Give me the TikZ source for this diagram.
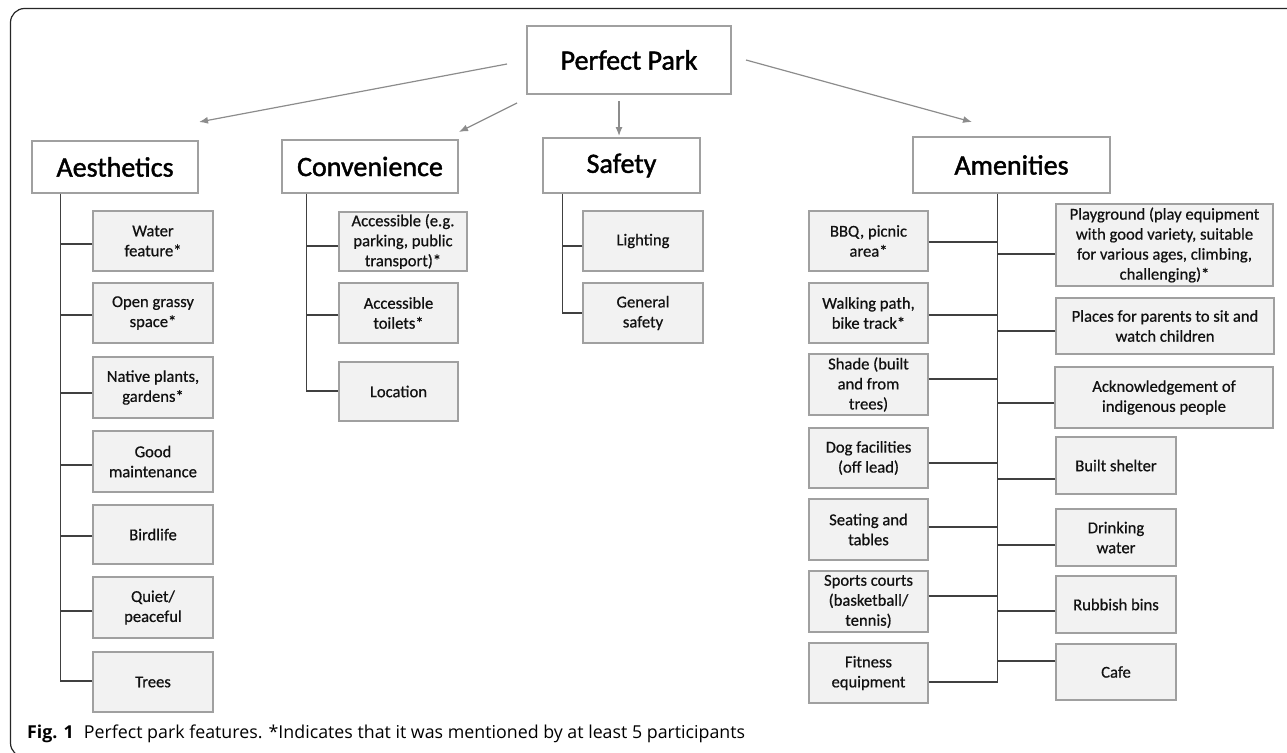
\documentclass[tikz,border=0pt]{standalone}
\usepackage{fontspec}
\setmainfont{Carlito}
\newfontfamily\hdrfont{Carlito}[FakeBold=1.5]
\newfontfamily\leaffont{Carlito}[FakeBold=0.6]
\newfontfamily\capfont{Open Sans}
\usetikzlibrary{arrows.meta,calc}
\definecolor{boxfill}{HTML}{F2F2F2}
\definecolor{boxline}{HTML}{A0A0A0}
\definecolor{connline}{HTML}{404040}
\definecolor{arrline}{HTML}{8C8C8C}
\definecolor{txt}{HTML}{111111}
\begin{document}
\begin{tikzpicture}[x=1pt,y=-1pt,
  hdr/.style={draw=boxline, line width=1.2pt, fill=white, inner sep=0pt, align=center, font=\hdrfont\fontsize{28}{32}\selectfont, text=black},
  leaf/.style={draw=boxline, line width=1.3pt, fill=boxfill, inner sep=0pt, align=center, font=\leaffont\fontsize{16.6}{20}\selectfont, text=txt},
  conn/.style={draw=connline, line width=1.3pt},
  arr/.style={draw=arrline, line width=1.2pt, -{Latex[length=9pt,width=7pt]}},
  frame/.style={draw=black!85, line width=1.2pt}]
\useasboundingbox (0,0) rectangle (1287,752);
\begin{scope}
\clip (0,0) rectangle (1287,752);
\draw[frame, rounded corners=14pt] (1300,8.5) -- (10.5,8.5) -- (10.5,757) -- (1300,757);
\end{scope}

% headers
\node[hdr, minimum width=204pt, minimum height=68pt] (pp) at (629,60) {Perfect Park};
\node[hdr, minimum width=166pt, minimum height=52pt] (aes) at (115,167) {Aesthetics};
\node[hdr, minimum width=176pt, minimum height=53pt] (con) at (370,166.5) {Convenience};
\node[hdr, minimum width=157pt, minimum height=55pt] (saf) at (621.5,165.5) {Safety};
\node[hdr, minimum width=197pt, minimum height=56pt] (ame) at (1011.5,165) {Amenities};

% arrows
\coordinate (a1s) at (507,64);  \coordinate (a1e) at (199,122);
\coordinate (a2s) at (517,103); \coordinate (a2e) at (459,132);
\coordinate (a3s) at (619,101); \coordinate (a3e) at (619,136);
\coordinate (a4s) at (746,60);  \coordinate (a4e) at (972,122);
\draw[arr] (a1s) -- (a1e);
\draw[arr] (a2s) -- (a2e);
\draw[arr] (a3s) -- (a3e);
\draw[arr] (a4s) -- (a4e);

% Aesthetics
\node[leaf, minimum width=120pt, minimum height=60pt] (w1) at (153,241) {Water\\feature*};
\node[leaf, minimum width=120pt, minimum height=60pt] (w2) at (153,313) {Open grassy\\space*};
\node[leaf, minimum width=120pt, minimum height=61pt] (w3) at (153,387.5) {Native plants,\\gardens*};
\node[leaf, minimum width=120pt, minimum height=61pt] (w4) at (153,461.5) {Good\\maintenance};
\node[leaf, minimum width=120pt, minimum height=59pt] (w5) at (153,534.5) {Birdlife};
\node[leaf, minimum width=120pt, minimum height=61pt] (w6) at (153,607.5) {Quiet/\\peaceful};
\node[leaf, minimum width=120pt, minimum height=60pt] (w7) at (153,682) {Trees};

% Convenience
\node[leaf, minimum width=128pt, minimum height=59pt] (c1) at (403,241.5) {Accessible (e.g.\\parking, public\\transport)*};
\node[leaf, minimum width=119pt, minimum height=60pt] (c2) at (398.5,313) {Accessible\\toilets*};
\node[leaf, minimum width=119pt, minimum height=59pt] (c3) at (398.5,391.5) {Location};

% Safety
\node[leaf, minimum width=120pt, minimum height=60pt] (s1) at (643,241) {Lighting};
\node[leaf, minimum width=120pt, minimum height=60pt] (s2) at (643,313) {General\\safety};

% Amenities left
\node[leaf, minimum width=119pt, minimum height=60pt] (m1) at (868.5,241) {BBQ, picnic\\area*};
\node[leaf, minimum width=119pt, minimum height=60pt] (m2) at (868.5,313) {Walking path,\\bike track*};
\node[leaf, minimum width=119pt, minimum height=61pt] (m3) at (868.5,384.5) {Shade (built\\and from\\trees)};
\node[leaf, minimum width=119pt, minimum height=60pt] (m4) at (868.5,458) {Dog facilities\\(off lead)};
\node[leaf, minimum width=119pt, minimum height=61pt] (m5) at (868.5,529.5) {Seating and\\tables};
\node[leaf, minimum width=119pt, minimum height=61pt] (m6) at (868.5,601.5) {Sports courts\\(basketball/\\tennis)};
\node[leaf, minimum width=119pt, minimum height=60pt] (m7) at (868.5,673) {Fitness\\equipment};

% Amenities right
\node[leaf, minimum width=217pt, minimum height=82pt] (r1) at (1164.5,245) {Playground (play equipment\\with good variety, suitable\\for various ages, climbing,\\challenging)*};
\node[leaf, minimum width=218pt, minimum height=56pt] (r2) at (1165,326) {Places for parents to sit and\\watch children};
\node[leaf, minimum width=218pt, minimum height=61pt] (r3) at (1164,397.5) {Acknowledgement of\\indigenous people};
\node[leaf, minimum width=120pt, minimum height=57pt] (r4) at (1116,465.5) {Built shelter};
\node[leaf, minimum width=120pt, minimum height=57pt] (r5) at (1116,537.5) {Drinking\\water};
\node[leaf, minimum width=120pt, minimum height=57pt] (r6) at (1116,604.5) {Rubbish bins};
\node[leaf, minimum width=120pt, minimum height=56pt] (r7) at (1116,672) {Cafe};

% trunks
\coordinate (aT) at ([xshift=29pt]aes.south west);
\coordinate (cT) at ([xshift=25pt]con.south west);
\coordinate (sT) at ([xshift=20pt]saf.south west);
\coordinate (mT) at ([xshift=85pt]ame.south west);

\draw[conn] (aT) |- ($(w7.west)+(0,-1)$);
\foreach \n/\d in {w1/3,w2/2,w3/5.5,w4/3.5,w5/1.5,w6/3.5}{
  \coordinate (tmp) at ($(\n.west)+(0,\d)$);
  \draw[conn] (tmp) -- (tmp -| aT);
}
\draw[conn] (cT) |- ($(c3.west)+(0,-0.5)$);
\foreach \n/\d in {c1/4.5,c2/2}{
  \coordinate (tmp) at ($(\n.west)+(0,\d)$);
  \draw[conn] (tmp) -- (tmp -| cT);
}
\draw[conn] (sT) |- (s2.west);
\coordinate (tmp) at ($(s1.west)+(0,5)$);
\draw[conn] (tmp) -- (tmp -| sT);

\draw[conn] (mT) |- ($(m7.east)+(0,9)$);
\foreach \n/\d in {m1/1,m2/2,m3/-5.5,m4/5,m5/-2.5,m6/-5.5}{
  \coordinate (tmp) at ($(\n.east)+(0,\d)$);
  \draw[conn] (tmp) -- (tmp -| mT);
}
\foreach \n/\d in {r1/9,r2/5,r3/5.5,r4/13.5,r5/7.5,r6/6.5,r7/-11}{
  \coordinate (tmp) at ($(\n.west)+(0,\d)$);
  \draw[conn] (tmp) -- (tmp -| mT);
}

% caption
\node[anchor=base west, inner sep=0pt, text=black] (cap) at (27,738)
  {\capfont\fontsize{17.8}{21}\selectfont\textbf{Fig. 1}\hspace{10pt}Perfect park features. *Indicates that it was mentioned by at least 5 participants};
\end{tikzpicture}
\end{document}
